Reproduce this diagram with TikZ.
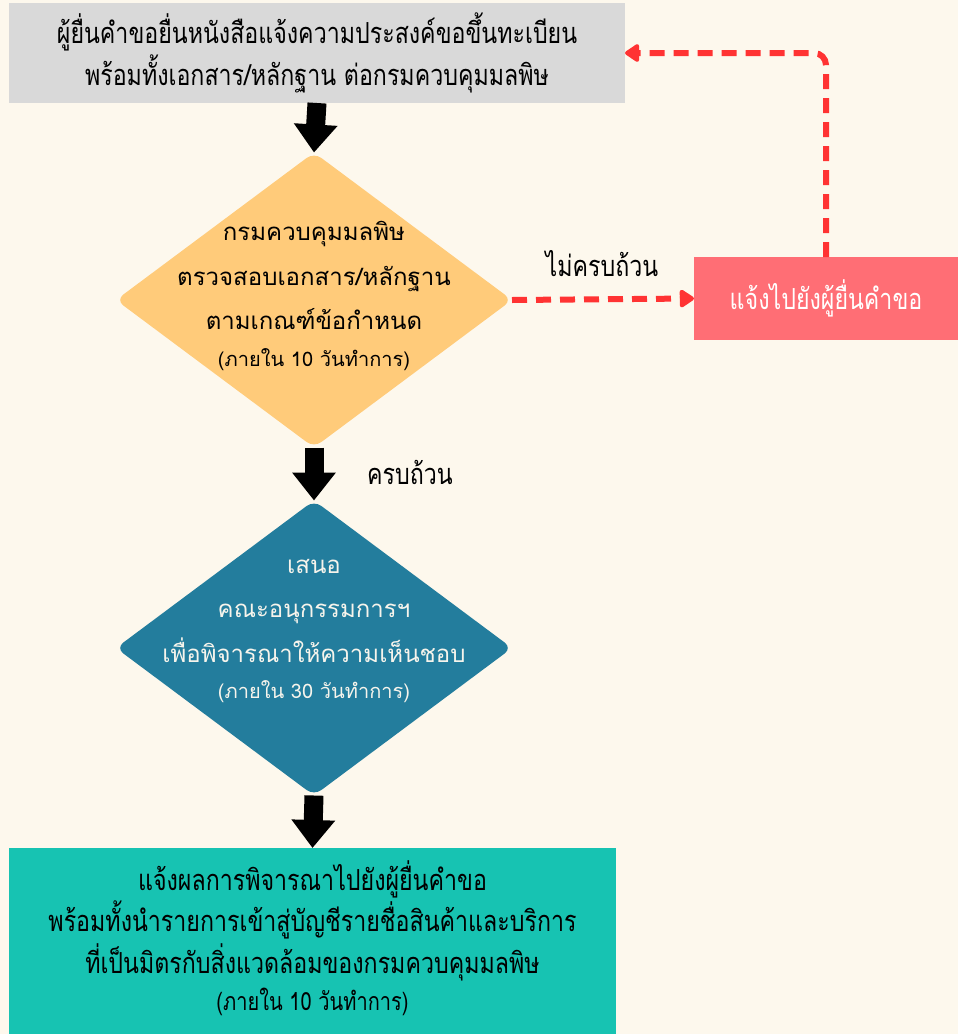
\documentclass[tikz,border=0pt]{standalone}
\usepackage{fontspec}
\newfontfamily\thaifont[Script=Thai]{Loma}
\newfontfamily\thainarrow[Script=Thai,FakeStretch=0.8]{Loma}
\usepackage{xcolor}
\usetikzlibrary{arrows.meta,shapes.geometric}

\definecolor{bgcream}{RGB}{253,248,237}
\definecolor{boxgray}{RGB}{217,217,217}
\definecolor{checkyellow}{RGB}{255,203,122}
\definecolor{returnpink}{RGB}{255,110,117}
\definecolor{dashred}{RGB}{255,51,51}
\definecolor{meetblue}{RGB}{35,125,157}
\definecolor{resultteal}{RGB}{23,195,178}
\definecolor{softwhite}{RGB}{246,244,236}

\tikzset{
  stepbox/.style={rectangle, inner sep=0pt, outer sep=0pt, align=center,
    font=\thainarrow\fontsize{29}{42}\selectfont},
  checkdia/.style={diamond, inner sep=0pt, outer sep=0pt,
    minimum width=396pt, minimum height=295pt, rounded corners=9pt},
  diatext/.style={align=center, inner sep=0pt,
    font=\thaifont\fontsize{24}{44.5}\selectfont},
  flowarrow/.style={line width=19pt, -{Triangle[width=42pt,length=28pt]}},
  backdash/.style={dashred, line width=6pt, dash pattern=on 15pt off 9pt,
    -{Triangle[width=20pt,length=16pt,round]}}
}

\begin{document}
\begin{tikzpicture}[x=1pt,y=-1pt]
        % background
        \fill[bgcream] (0,0) rectangle (958,1034);
        \useasboundingbox (0,0) rectangle (958,1034);

        % boxes
        \node[stepbox, fill=boxgray, minimum width=616pt, minimum height=100pt] (request) at (317,53)
          {ผู้ยื่นคำขอยื่นหนังสือแจ้งความประสงค์ขอขึ้นทะเบียน\\พร้อมทั้งเอกสาร/หลักฐาน ต่อกรมควบคุมมลพิษ};
        \node[stepbox, fill=returnpink, text=white, minimum width=264pt, minimum height=83pt] (notify) at (826,298.5)
          {แจ้งไปยังผู้ยื่นคำขอ};
        \node[stepbox, fill=resultteal, minimum width=607pt, minimum height=186pt] (result) at (312.5,941) {};

        % diamonds
        \node[checkdia, fill=checkyellow] (check) at (314,300) {};
        \node[checkdia, fill=meetblue] (meeting) at (314,648) {};

        % texts on top of them
        \node[diatext] (checktext) at (314,296)
          {กรมควบคุมมลพิษ\\ตรวจสอบเอกสาร/หลักฐาน\\ตามเกณฑ์ข้อกำหนด\\[-8pt]{\fontsize{20}{22}\selectfont(ภายใน 10 วันทำการ)}};
        \node[diatext, text=softwhite] (meetingtext) at (314,631)
          {เสนอ\\คณะอนุกรรมการฯ\\เพื่อพิจารณาให้ความเห็นชอบ\\[-8pt]{\fontsize{20}{22}\selectfont(ภายใน 30 วันทำการ)}};
        \node[stepbox, font=\thainarrow\fontsize{29}{41.5}\selectfont] (resulttext) at (312.5,938)
          {แจ้งผลการพิจารณาไปยังผู้ยื่นคำขอ\\พร้อมทั้งนำรายการเข้าสู่บัญชีรายชื่อสินค้าและบริการ\\ที่เป็นมิตรกับสิ่งแวดล้อมของกรมควบคุมมลพิษ\\[-4pt]{\fontsize{25}{26}\selectfont(ภายใน 10 วันทำการ)}};

        % answers
        \node[stepbox] (incomplete) at (602,264) {ไม่ครบถ้วน};
        \node[stepbox] (complete) at (410,472) {ครบถ้วน};

        % main flow down
        \draw[flowarrow] (request.south) -- (check.north);
        \draw[flowarrow] (check.south) -- (meeting.north);
        \draw[flowarrow] (meeting.south) -- (result.north);

        % back to the applicant
        \draw[backdash] (check.east) -- (notify.west);
        \draw[backdash, rounded corners=12pt] (notify.north) |- (request.east);

    \end{tikzpicture}
\end{document}
